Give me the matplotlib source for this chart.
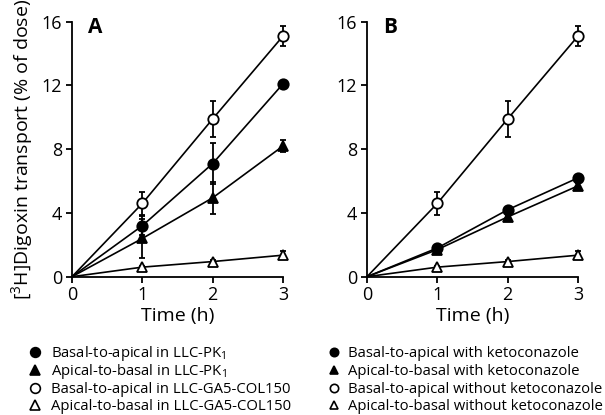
import numpy as np
import matplotlib
matplotlib.use('Agg')
import matplotlib.pyplot as plt
from matplotlib.lines import Line2D

plt.rcParams['font.family'] = ['Open Sans', 'DejaVu Sans']
plt.rcParams['mathtext.fontset'] = 'custom'
plt.rcParams['mathtext.rm'] = 'Open Sans'
tick_fontsize = 13
label_fontsize = 14
legend_fontsize = 10.7

time = [0, 1, 2, 3]

# panel A
a_ba_pk = [0, 3.2, 7.1, 12.1]
a_ba_pk_err = [0, 0.6, 1.3, 0.2]
a_ab_pk = [0, 2.4, 4.95, 8.2]
a_ab_pk_err = [0, 1.2, 1.0, 0.35]
a_ba_col = [0, 4.6, 9.9, 15.1]
a_ba_col_err = [0, 0.7, 1.15, 0.65]
a_ab_col = [0, 0.6, 0.95, 1.35]
a_ab_col_err = [0, 0.1, 0.1, 0.25]

# panel B
b_ba_keto = [0, 1.8, 4.2, 6.2]
b_ba_keto_err = [0, 0.1, 0.15, 0.15]
b_ab_keto = [0, 1.7, 3.75, 5.7]
b_ab_keto_err = [0, 0.1, 0.15, 0.15]
b_ba_nok = [0, 4.6, 9.9, 15.1]
b_ba_nok_err = [0, 0.7, 1.15, 0.65]
b_ab_nok = [0, 0.6, 0.95, 1.35]
b_ab_nok_err = [0, 0.1, 0.1, 0.25]

labels_a = ['Basal-to-apical in LLC-PK$_1$', 'Apical-to-basal in LLC-PK$_1$',
            'Basal-to-apical in LLC-GA5-COL150', 'Apical-to-basal in LLC-GA5-COL150']
labels_b = ['Basal-to-apical with ketoconazole', 'Apical-to-basal with ketoconazole',
            'Basal-to-apical without ketoconazole', 'Apical-to-basal without ketoconazole']

styles = [('o', 'black'), ('^', 'black'), ('o', 'white'), ('^', 'white')]

W, H = 605, 415
fig = plt.figure(figsize=(W / 100, H / 100), dpi=100)
ax_a = fig.add_axes([72 / W, 138.3 / H, 211 / W, 255 / H])
ax_b = fig.add_axes([367 / W, 138.3 / H, 211 / W, 255 / H])

def draw_panel(ax, series, tag):
    for (y, err), (m, fc) in zip(series, styles):
        ax.errorbar(time, y, yerr=err, color='black', marker=m, markerfacecolor=fc,
                    markeredgecolor='black', markeredgewidth=1.3, markersize=7.5,
                    markevery=[1, 2, 3], errorevery=(1, 1),
                    linewidth=1.2, elinewidth=1.3, capsize=2.5, capthick=1.3,
                    clip_on=False, zorder=3)
    ax.set_xlim(0, 3)
    ax.set_ylim(0, 16)
    ax.set_xticks([0, 1, 2, 3])
    ax.set_yticks([0, 4, 8, 12, 16])
    ax.spines['top'].set_visible(False)
    ax.spines['right'].set_visible(False)
    ax.spines['left'].set_linewidth(1.3)
    ax.spines['bottom'].set_linewidth(1.3)
    ax.tick_params(direction='out', length=4, width=1.3, labelsize=tick_fontsize, pad=3)
    ax.set_xlabel('Time (h)', fontsize=label_fontsize, labelpad=2)
    ax.text(0.075, 1.02, tag, transform=ax.transAxes, fontsize=15, fontweight='bold',
            va='top', ha='left')

draw_panel(ax_a, [(a_ba_pk, a_ba_pk_err), (a_ab_pk, a_ab_pk_err),
                  (a_ba_col, a_ba_col_err), (a_ab_col, a_ab_col_err)], 'A')
draw_panel(ax_b, [(b_ba_keto, b_ba_keto_err), (b_ab_keto, b_ab_keto_err),
                  (b_ba_nok, b_ba_nok_err), (b_ab_nok, b_ab_nok_err)], 'B')
ax_a.set_ylabel('[$^3$H]Digoxin transport (% of dose)', fontsize=label_fontsize, labelpad=4)

# legends drawn by hand below the panels
rows_px = [352, 370, 388, 405]
for x_mark, x_text, labels, msize in [(35, 51, labels_a, 7), (334, 348, labels_b, 6)]:
    for y_px, lab, (m, fc) in zip(rows_px, labels, styles):
        fig.add_artist(Line2D([x_mark / W], [1 - y_px / H], transform=fig.transFigure,
                              linestyle='none', marker=m, markerfacecolor=fc,
                              markeredgecolor='black', markersize=msize,
                              markeredgewidth=1.2))
        fig.text(x_text / W, 1 - (y_px + 4.5) / H, lab, fontsize=legend_fontsize,
                 ha='left', va='baseline')

fig.savefig('out.png', dpi=100)
